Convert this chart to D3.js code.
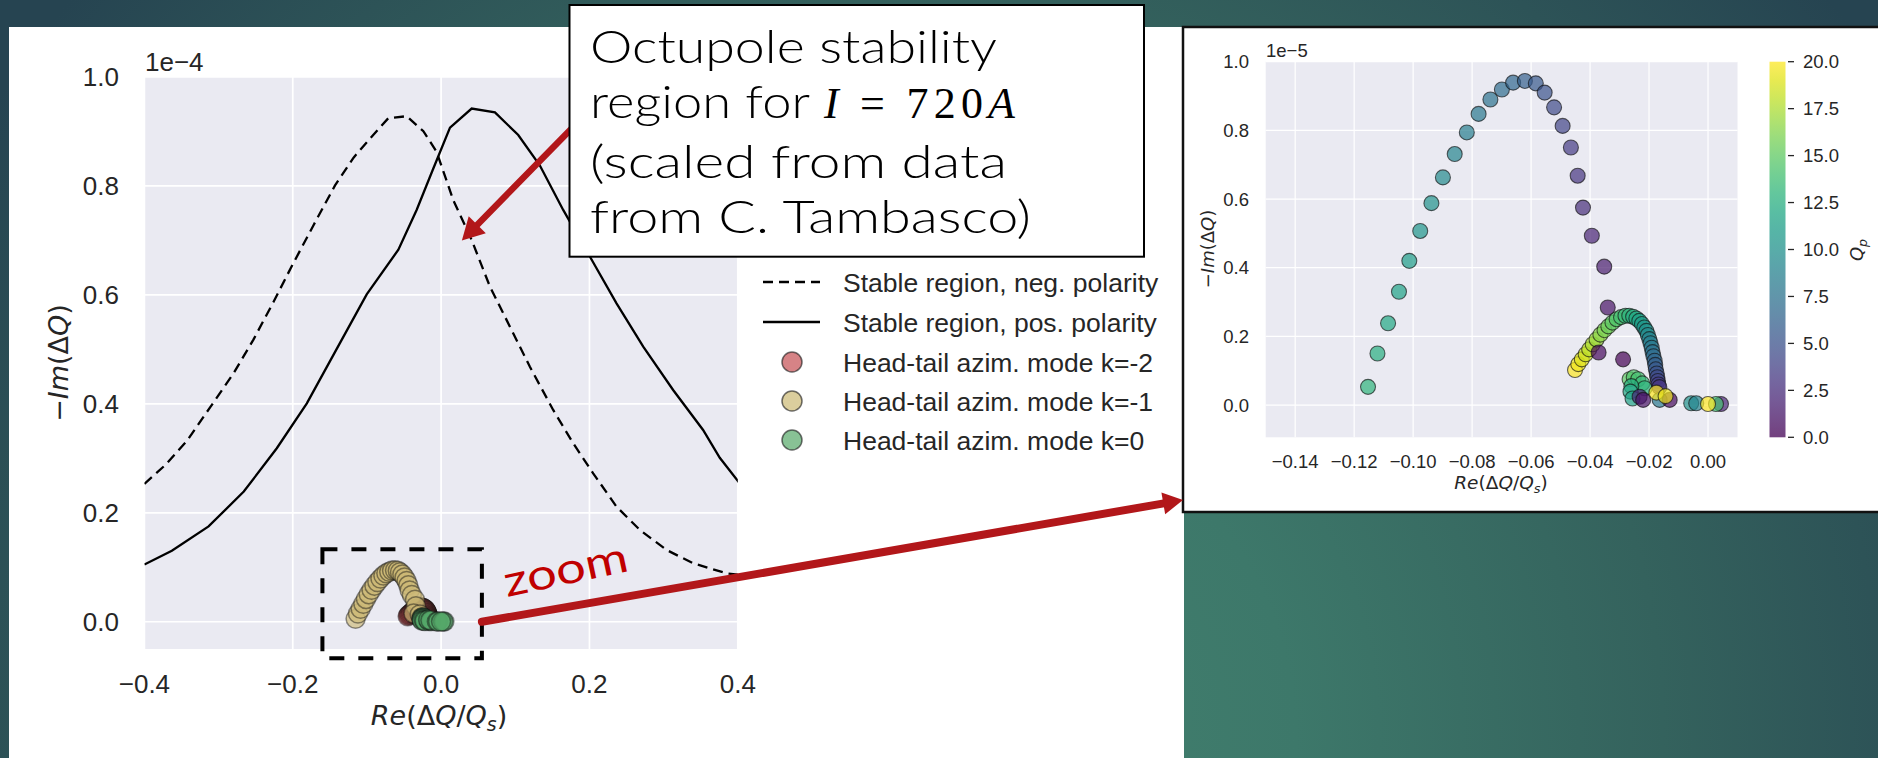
<!DOCTYPE html>
<html>
<head>
<meta charset="utf-8">
<script src="https://cdn.jsdelivr.net/npm/d3@7"></script>
<style>
  html, body { margin: 0; padding: 0; overflow: hidden; background: #2b4c56; }
</style>
</head>
<body>
<svg id="chart" width="1878" height="758"></svg>
<script>
// ---------- main plot: stability boundaries (units of 1e-4) ----------
const negPolRe = [-0.400, -0.372, -0.3427, -0.3112, -0.2798, -0.253, -0.226, -0.2014, -0.172, -0.143,
                  -0.118, -0.0958, -0.0711, -0.0463, -0.0239, -0.006, 0.0164, 0.0412, 0.0659, 0.0928,
                  0.1197, 0.1511, 0.1781, 0.205, 0.2365, 0.268, 0.3039, 0.3397, 0.3847, 0.4026];
const negPolIm = [0.253, 0.2875, 0.332, 0.394, 0.456, 0.518, 0.587, 0.6525, 0.728, 0.801,
                  0.852, 0.887, 0.9245, 0.928, 0.9005, 0.8625, 0.774, 0.7008, 0.615, 0.5417,
                  0.468, 0.3888, 0.3276, 0.2725, 0.2113, 0.1685, 0.1318, 0.1074, 0.089, 0.086];
const posPolRe = [-0.400, -0.363, -0.3135, -0.266, -0.2215, -0.181, -0.1407, -0.1003, -0.0576, -0.033,
                  -0.0105, 0.012, 0.0412, 0.0726, 0.104, 0.133, 0.1646, 0.2007, 0.2365, 0.2725,
                  0.3128, 0.3532, 0.3757, 0.4026];
const posPolIm = [0.105, 0.1305, 0.175, 0.239, 0.3185, 0.401, 0.501, 0.601, 0.683, 0.756,
                  0.832, 0.907, 0.942, 0.935, 0.8935, 0.838, 0.756, 0.670, 0.5846, 0.505,
                  0.4255, 0.352, 0.301, 0.254];

// ---------- head-tail modes: Re(dQ/Qs), -Im(dQ) in units of 1e-5, chromaticity Qp ----------
const modeM2Re = [-0.0451, -0.0440, -0.0428, -0.0415, -0.0403, -0.0391, -0.0378, -0.0365, -0.0351, -0.0338,
                  -0.0324, -0.0310, -0.0295, -0.0280, -0.0267, -0.0254, -0.0243, -0.0233, -0.0224, -0.0216,
                  -0.0209, -0.0204, -0.0199, -0.0195, -0.0191, -0.0188, -0.0185, -0.0181, -0.0179, -0.0177,
                  -0.0174, -0.0172, -0.0170, -0.0168, -0.0165];
const modeM2Im = [0.102, 0.119, 0.133, 0.148, 0.162, 0.177, 0.191, 0.205, 0.218, 0.229,
                  0.240, 0.250, 0.256, 0.260, 0.260, 0.257, 0.252, 0.245, 0.236, 0.226,
                  0.216, 0.204, 0.192, 0.180, 0.167, 0.154, 0.142, 0.129, 0.117, 0.104,
                  0.092, 0.081, 0.070, 0.060, 0.052];
const modeM2Qp = [20, 19.5, 19, 18.5, 18, 17.5, 17, 16.5, 16, 15.5,
                  15, 14.5, 14, 13.5, 13, 12.5, 12, 11.5, 11, 10.5,
                  10, 9.5, 9, 8.5, 8, 7.5, 7, 6.5, 6, 5.5,
                  5, 4.5, 4, 3.5, 3];

const modeM1Re = [-0.1153, -0.1121, -0.1085, -0.1048, -0.1013, -0.0976, -0.0938, -0.0899, -0.0859, -0.0818,
                  -0.0778, -0.0738, -0.0699, -0.0661, -0.0621, -0.0584, -0.0554, -0.0522, -0.0493, -0.0465,
                  -0.0442, -0.0424, -0.0394, -0.0352, -0.0340, -0.0371, -0.0288];
const modeM1Im = [0.053, 0.150, 0.238, 0.330, 0.420, 0.507, 0.588, 0.663, 0.731, 0.794,
                  0.848, 0.890, 0.919, 0.939, 0.944, 0.937, 0.910, 0.867, 0.813, 0.750,
                  0.668, 0.575, 0.493, 0.403, 0.284, 0.153, 0.133];
const modeM1Qp = [13, 12.5, 12, 11.5, 11, 10.5, 10, 9.5, 9, 8.5,
                  8, 7.5, 7, 6.5, 6, 5.5, 5, 4.5, 4, 3.5,
                  3, 2.5, 2, 1.5, 1, 0.5, 0];

const mode0Re = [-0.0266, -0.0252, -0.0237, -0.0223, -0.0215, -0.0260, -0.0263, -0.0256, -0.0232, -0.0220,
                 -0.0164, -0.0130, -0.0175, -0.0144, -0.0057, -0.0040, 0.0044, 0.0027, 0.0000];
const mode0Im = [0.075, 0.081, 0.075, 0.063, 0.049, 0.055, 0.039, 0.019, 0.024, 0.015,
                 0.015, 0.015, 0.036, 0.026, 0.005, 0.005, 0.003, 0.003, 0.003];
const mode0Qp = [15, 14.5, 14, 13.5, 13, 12.5, 12, 11.5, 2, 1,
                 8, 0.5, 20, 19.5, 10, 9, 2, 14, 20];

// ---------- ticks and labels ----------
const mainXTicks = [-0.4, -0.2, 0.0, 0.2, 0.4];
const mainYTicks = [0.0, 0.2, 0.4, 0.6, 0.8, 1.0];
const insetXTicks = [-0.14, -0.12, -0.10, -0.08, -0.06, -0.04, -0.02, 0.00];
const insetYTicks = [0.0, 0.2, 0.4, 0.6, 0.8, 1.0];
const cbarTicks = [0, 2.5, 5, 7.5, 10, 12.5, 15, 17.5, 20];
const legendLabels = ["Stable region, neg. polarity", "Stable region, pos. polarity",
                      "Head-tail azim. mode k=-2", "Head-tail azim. mode k=-1", "Head-tail azim. mode k=0"];
const modeColors = ["#c44e52", "#ccb974", "#55a868"];
const calloutLines = ["Octupole stability", "region for", "(scaled from data", "from C. Tambasco)"];
const zoomBoxRe = [-0.16, 0.055];      // main-plot units
const zoomBoxIm = [-0.067, 0.133];
const calloutTip = [0.028, 0.70];

// ---------- set-up ----------
const W = 1878, H = 758;
const svg = d3.select("#chart");
const defs = svg.append("defs");
const TICK_FONT = "'Liberation Sans', Arial, sans-serif";
const MATH_FONT = "'DejaVu Sans', sans-serif";
const NOTE_FONT = "Lato, 'Open Sans', sans-serif";
const INK = "#262626";
const f1 = d3.format(".1f"), f2 = d3.format(".2f");

// slide background
const bg = defs.append("radialGradient").attr("id", "bgGrad")
  .attr("gradientUnits", "userSpaceOnUse").attr("cx", 950).attr("cy", 740).attr("r", 1150);
[[0, "#43826f"], [0.3, "#3d786a"], [0.62, "#34625d"], [1, "#264451"]]
  .forEach(([o, c]) => bg.append("stop").attr("offset", o).attr("stop-color", c));
svg.append("rect").attr("width", W).attr("height", H).attr("fill", "url(#bgGrad)");
svg.append("rect").attr("x", 9).attr("y", 27).attr("width", 1175).attr("height", H - 27).attr("fill", "#fff");

// helper: mathtext-like label made of tspans
function mathText(sel, parts, size) {
  parts.forEach(p => {
    const t = sel.append("tspan").text(p.t);
    if (p.it) t.attr("font-style", "italic");
    if (p.sub) t.attr("font-size", size * 0.7).attr("dy", size * 0.22);
    if (p.up) t.attr("dy", -size * 0.22);
  });
}
const reLabel = [{t: "Re", it: 1}, {t: "(Δ"}, {t: "Q", it: 1}, {t: "/"}, {t: "Q", it: 1}, {t: "s", it: 1, sub: 1}, {t: ")", up: 1}];
const imLabel = [{t: "−"}, {t: "Im", it: 1}, {t: "(Δ"}, {t: "Q", it: 1}, {t: ")"}];

// ---------- main axes ----------
const xM = d3.scaleLinear([-0.4, 0.4], [144.4, 737.8]);
const yM = d3.scaleLinear([-0.05, 1.0], [649, 77]);
const gM = svg.append("g");
gM.append("rect").attr("x", xM.range()[0]).attr("y", yM.range()[1])
  .attr("width", xM.range()[1] - xM.range()[0]).attr("height", yM.range()[0] - yM.range()[1]).attr("fill", "#eaeaf2");
defs.append("clipPath").attr("id", "clipMain").append("rect")
  .attr("x", xM.range()[0]).attr("y", yM.range()[1])
  .attr("width", xM.range()[1] - xM.range()[0]).attr("height", yM.range()[0] - yM.range()[1]);

gM.selectAll(".vg").data(mainXTicks).join("line")
  .attr("x1", d => xM(d)).attr("x2", d => xM(d)).attr("y1", yM.range()[0]).attr("y2", yM.range()[1])
  .attr("stroke", "#fff").attr("stroke-width", 1.7);
gM.selectAll(".hg").data(mainYTicks).join("line")
  .attr("y1", d => yM(d)).attr("y2", d => yM(d)).attr("x1", xM.range()[0]).attr("x2", xM.range()[1])
  .attr("stroke", "#fff").attr("stroke-width", 1.7);

gM.selectAll(".xt").data(mainXTicks).join("text")
  .attr("x", d => xM(d)).attr("y", 693).attr("text-anchor", "middle")
  .attr("font-family", TICK_FONT).attr("font-size", 26).attr("fill", INK).text(d => f1(d));
gM.selectAll(".yt").data(mainYTicks).join("text")
  .attr("x", 119).attr("y", d => yM(d)).attr("dy", "0.36em").attr("text-anchor", "end")
  .attr("font-family", TICK_FONT).attr("font-size", 26).attr("fill", INK).text(d => f1(d));
gM.append("text").attr("x", 145).attr("y", 71).attr("font-family", TICK_FONT).attr("font-size", 26)
  .attr("fill", INK).text("1e−4");

mathText(gM.append("text").attr("x", 439).attr("y", 725).attr("text-anchor", "middle")
  .attr("font-family", MATH_FONT).attr("font-size", 27).attr("fill", INK), reLabel, 27);
mathText(gM.append("text").attr("transform", "translate(68,363) rotate(-90)").attr("text-anchor", "middle")
  .attr("font-family", MATH_FONT).attr("font-size", 27).attr("fill", INK), imLabel, 27);

const curveLine = d3.line().x(d => xM(d[0])).y(d => yM(d[1]));
const plotLayer = gM.append("g").attr("clip-path", "url(#clipMain)");
plotLayer.append("path").attr("d", curveLine(negPolRe.map((v, i) => [v, negPolIm[i]])))
  .attr("fill", "none").attr("stroke", "#000").attr("stroke-width", 2.3).attr("stroke-dasharray", "10,6");
plotLayer.append("path").attr("d", curveLine(posPolRe.map((v, i) => [v, posPolIm[i]])))
  .attr("fill", "none").attr("stroke", "#000").attr("stroke-width", 2.3);

// modes on the main plot: -Im scaled from 1e-5 to 1e-4
const modes = [
  {re: modeM2Re, im: modeM2Im, qp: modeM2Qp},
  {re: modeM1Re, im: modeM1Im, qp: modeM1Qp},
  {re: mode0Re, im: mode0Im, qp: mode0Qp}
];
modes.forEach((m, k) => {
  plotLayer.append("g").selectAll("circle").data(m.re.map((v, i) => [v, m.im[i] / 10])).join("circle")
    .attr("cx", d => xM(d[0])).attr("cy", d => yM(d[1])).attr("r", 9.5)
    .attr("fill", modeColors[k]).attr("fill-opacity", 0.65)
    .attr("stroke", "#111").attr("stroke-opacity", 0.45).attr("stroke-width", 1.5);
});

// legend
const legY = [282, 322, 362, 401, 440];
const gL = svg.append("g");
legendLabels.forEach((lab, i) => {
  const y = legY[i];
  if (i < 2) {
    gL.append("line").attr("x1", 763).attr("x2", 820).attr("y1", y).attr("y2", y)
      .attr("stroke", "#000").attr("stroke-width", 2.3).attr("stroke-dasharray", i === 0 ? "10,6" : null);
  } else {
    gL.append("circle").attr("cx", 792).attr("cy", y).attr("r", 10)
      .attr("fill", modeColors[i - 2]).attr("fill-opacity", 0.7)
      .attr("stroke", "#111").attr("stroke-opacity", 0.6).attr("stroke-width", 1.5);
  }
  gL.append("text").attr("x", 843).attr("y", y).attr("dy", "0.36em")
    .attr("font-family", TICK_FONT).attr("font-size", 26.5).attr("fill", INK).text(lab);
});

// dashed zoom region on the main plot
svg.append("rect").attr("x", xM(zoomBoxRe[0])).attr("y", yM(zoomBoxIm[1]))
  .attr("width", xM(zoomBoxRe[1]) - xM(zoomBoxRe[0])).attr("height", yM(zoomBoxIm[0]) - yM(zoomBoxIm[1]))
  .attr("fill", "none").attr("stroke", "#000").attr("stroke-width", 4).attr("stroke-dasharray", "15,14");

// ---------- inset ----------
const xI = d3.scaleLinear([-0.15, 0.01], [1265.7, 1737.5]);
const yI = d3.scaleLinear([-0.094, 1.0], [437.3, 61.7]);
const cb = d3.scaleLinear([0, 20], [437.3, 61.7]);
const gI = svg.append("g");
gI.append("rect").attr("x", 1183).attr("y", 27).attr("width", 720).attr("height", 485)
  .attr("fill", "#fff").attr("stroke", "#111").attr("stroke-width", 2.5);
gI.append("rect").attr("x", xI.range()[0]).attr("y", yI.range()[1])
  .attr("width", xI.range()[1] - xI.range()[0]).attr("height", yI.range()[0] - yI.range()[1]).attr("fill", "#eaeaf2");
gI.selectAll(".vg").data(insetXTicks).join("line")
  .attr("x1", d => xI(d)).attr("x2", d => xI(d)).attr("y1", yI.range()[0]).attr("y2", yI.range()[1])
  .attr("stroke", "#fff").attr("stroke-width", 1.2);
gI.selectAll(".hg").data(insetYTicks).join("line")
  .attr("y1", d => yI(d)).attr("y2", d => yI(d)).attr("x1", xI.range()[0]).attr("x2", xI.range()[1])
  .attr("stroke", "#fff").attr("stroke-width", 1.2);
gI.selectAll(".xt").data(insetXTicks).join("text")
  .attr("x", d => xI(d)).attr("y", 468).attr("text-anchor", "middle")
  .attr("font-family", TICK_FONT).attr("font-size", 18.5).attr("fill", INK).text(d => f2(d));
gI.selectAll(".yt").data(insetYTicks).join("text")
  .attr("x", 1249).attr("y", d => yI(d)).attr("dy", "0.36em").attr("text-anchor", "end")
  .attr("font-family", TICK_FONT).attr("font-size", 18.5).attr("fill", INK).text(d => f1(d));
gI.append("text").attr("x", 1266).attr("y", 57).attr("font-family", TICK_FONT).attr("font-size", 18.5)
  .attr("fill", INK).text("1e−5");
mathText(gI.append("text").attr("x", 1501).attr("y", 489).attr("text-anchor", "middle")
  .attr("font-family", MATH_FONT).attr("font-size", 18.5).attr("fill", INK), reLabel, 18.5);
mathText(gI.append("text").attr("transform", "translate(1214,249) rotate(-90)").attr("text-anchor", "middle")
  .attr("font-family", MATH_FONT).attr("font-size", 18).attr("fill", INK), imLabel, 18);

const insetPts = gI.append("g");
modes.forEach(m => {
  insetPts.append("g").selectAll("circle").data(m.re.map((v, i) => [v, m.im[i], m.qp[i]])).join("circle")
    .attr("cx", d => xI(d[0])).attr("cy", d => yI(d[1])).attr("r", 7.5)
    .attr("fill", d => d3.interpolateViridis(d[2] / 20)).attr("fill-opacity", 0.7)
    .attr("stroke", "#111").attr("stroke-opacity", 0.65).attr("stroke-width", 1.1);
});

// colorbar
const cg = defs.append("linearGradient").attr("id", "viridisGrad")
  .attr("x1", 0).attr("y1", 1).attr("x2", 0).attr("y2", 0);
d3.range(0, 1.0001, 0.05).forEach(t => cg.append("stop").attr("offset", t).attr("stop-color", d3.interpolateViridis(t)));
gI.append("rect").attr("x", 1769.5).attr("y", cb(20)).attr("width", 16).attr("height", cb(0) - cb(20))
  .attr("fill", "url(#viridisGrad)").attr("opacity", 0.75);
gI.selectAll(".ct").data(cbarTicks).join("line")
  .attr("x1", 1788).attr("x2", 1794).attr("y1", d => cb(d)).attr("y2", d => cb(d))
  .attr("stroke", INK).attr("stroke-width", 1.3);
gI.selectAll(".cl").data(cbarTicks).join("text")
  .attr("x", 1803).attr("y", d => cb(d)).attr("dy", "0.36em")
  .attr("font-family", TICK_FONT).attr("font-size", 18.5).attr("fill", INK).text(d => f1(d));
mathText(gI.append("text").attr("transform", "translate(1863,250) rotate(-90)").attr("text-anchor", "middle")
  .attr("font-family", MATH_FONT).attr("font-size", 18).attr("fill", INK), [{t: "Q", it: 1}, {t: "p", it: 1, sub: 1}], 18);

// ---------- annotations ----------
const RED = "#b2171a";
function arrow(g, x1, y1, x2, y2, w, headLen, headHalf) {
  const dx = x2 - x1, dy = y2 - y1, L = Math.hypot(dx, dy), ux = dx / L, uy = dy / L;
  const bx = x2 - ux * headLen, by = y2 - uy * headLen;
  g.append("line").attr("x1", x1).attr("y1", y1).attr("x2", bx + ux * 2).attr("y2", by + uy * 2)
    .attr("stroke", RED).attr("stroke-width", w).attr("stroke-linecap", "round");
  g.append("path").attr("d", `M${x2},${y2}L${bx - uy * headHalf},${by + ux * headHalf}L${bx + uy * headHalf},${by - ux * headHalf}Z`)
    .attr("fill", RED);
}
const gA = svg.append("g");
arrow(gA, xM(zoomBoxRe[1]), yM(0), 1183, 500, 8, 20, 11);
svg.append("text").attr("transform", "translate(507,597) rotate(-12)")
  .attr("font-family", NOTE_FONT).attr("font-size", 43).attr("fill", "#c00000")
  .attr("textLength", 126).attr("lengthAdjust", "spacingAndGlyphs").text("zoom");

arrow(gA, 580, 120, xM(calloutTip[0]), yM(calloutTip[1]), 6.5, 22, 12);

// callout box
const gC = svg.append("g");
gC.append("rect").attr("x", 569.5).attr("y", 5).attr("width", 574.5).attr("height", 251.7)
  .attr("fill", "#fff").attr("stroke", "#000").attr("stroke-width", 2);
const lineBase = [63, 118, 178, 233];
const lineLen = [407, 220, 417, 441];
calloutLines.forEach((s, i) => {
  gC.append("text").attr("x", 590).attr("y", lineBase[i])
    .attr("font-family", NOTE_FONT).attr("font-weight", 300).attr("font-size", 45).attr("fill", "#000")
    .attr("textLength", lineLen[i]).attr("lengthAdjust", "spacingAndGlyphs").text(s);
});
const eq = gC.append("text").attr("x", 824).attr("y", 118)
  .attr("font-family", "'Liberation Serif', 'DejaVu Serif', serif").attr("font-size", 44).attr("fill", "#000")
  .attr("textLength", 191).attr("lengthAdjust", "spacing");
eq.append("tspan").attr("font-style", "italic").text("I");
eq.append("tspan").text(" = 720");
eq.append("tspan").attr("font-style", "italic").text("A");
</script>
</body>
</html>
